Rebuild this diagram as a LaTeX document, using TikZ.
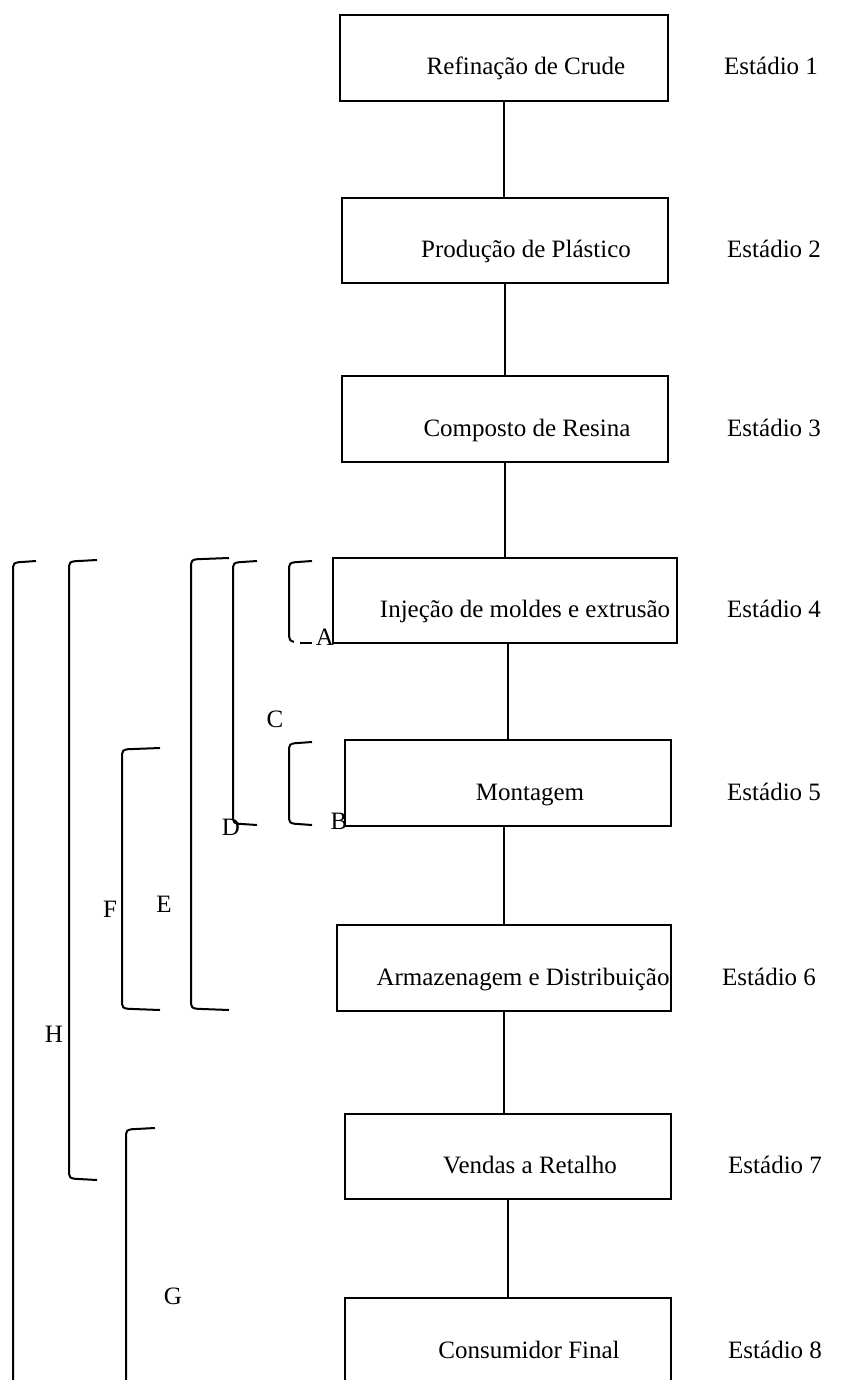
\documentclass[tikz,border=0pt]{standalone}
\usepackage{fontspec}
\setmainfont{Liberation Serif}
\newcommand{\mybrk}[4]{% #1 x of spine, #2 top y, #3 bottom y, #4 arm end x
  \draw[brk] (#4,#2) -- ({#1+6},{#2+1.2}) .. controls ({#1+1.5},{#2+1.8}) and (#1,{#2+3}) .. (#1,{#2+6})
    -- (#1,{#3-6}) .. controls (#1,{#3-3}) and ({#1+1.5},{#3-1.8}) .. ({#1+6},{#3-1.2}) -- (#4,#3);}
\begin{document}
\begin{tikzpicture}[x=1pt,y=-1pt,
  stagebox/.style={draw=black, line width=1.9pt, rectangle, inner sep=0pt, minimum width=326pt, minimum height=86pt},
  boxtext/.style={anchor=base, inner sep=0pt, font=\fontsize{25}{29}\selectfont},
  stagelbl/.style={anchor=base west, inner sep=0pt, font=\fontsize{25}{29}\selectfont},
  letter/.style={anchor=base, inner sep=0pt, font=\fontsize{25}{29}\selectfont},
  link/.style={draw=black, line width=1.9pt},
  brk/.style={draw=black, line width=2pt}]
\useasboundingbox (0,0) rectangle (859,1380);
% boxes
\node[stagebox, minimum width=328pt] (b1) at (504,58) {};
\node[stagebox, minimum height=85pt] (b2) at (505,240.5) {};
\node[stagebox] (b3) at (505,419) {};
\node[stagebox, minimum width=344pt, minimum height=85pt] (b4) at (505,600.5) {};
\node[stagebox] (b5) at (508,783) {};
\node[stagebox, minimum width=334pt] (b6) at (504,968) {};
\node[stagebox, minimum height=85pt] (b7) at (508,1156.5) {};
\node[stagebox] (b8) at (508,1341) {};
% box texts
\node[boxtext] (t1) at (526,75) {Refinação de Crude};
\node[boxtext] (t2) at (526,257.5) {Produção de Plástico};
\node[boxtext] (t3) at (527,436) {Composto de Resina};
\node[boxtext] (t4) at (525,617.5) {Injeção de moldes e extrusão};
\node[boxtext] (t5) at (530,800) {Montagem};
\node[boxtext] (t6) at (523,985) {Armazenagem e Distribuição};
\node[boxtext] (t7) at (530,1173.5) {Vendas a Retalho};
\node[boxtext] (t8) at (529,1358) {Consumidor Final};
% stage labels
\node[stagelbl] (s1) at (724,75) {Estádio 1};
\node[stagelbl] (s2) at (727,257.5) {Estádio 2};
\node[stagelbl] (s3) at (727,436) {Estádio 3};
\node[stagelbl] (s4) at (727,617.5) {Estádio 4};
\node[stagelbl] (s5) at (727,800) {Estádio 5};
\node[stagelbl] (s6) at (722,985) {Estádio 6};
\node[stagelbl] (s7) at (728,1173.5) {Estádio 7};
\node[stagelbl] (s8) at (728,1358) {Estádio 8};
% connectors
\draw[link] (b1.south) -- (b1.south |- b2.north);
\draw[link] (b2.south) -- (b2.south |- b3.north);
\draw[link] (b3.south) -- (b3.south |- b4.north);
\draw[link] (b5.north |- b4.south) -- (b5.north);
\draw[link] (b6.north |- b5.south) -- (b6.north);
\draw[link] (b6.south) -- (b6.south |- b7.north);
\draw[link] (b7.south) -- (b7.south |- b8.north);
% brackets
\mybrk{13}{561}{1400}{36}
\mybrk{69}{560}{1180}{97}
\mybrk{122}{748}{1010}{160}
\mybrk{191}{558}{1010}{229}
\mybrk{233}{561}{825}{257}
\mybrk{289}{742}{825}{312}
\mybrk{126}{1128}{1400}{155}
% bracket A with broken bottom arm
\draw[brk] (312,561) -- (295,562.2) .. controls (290.5,562.8) and (289,564) .. (289,567)
  -- (289,636) .. controls (289,639) and (290,641) .. (294,641.8);
\draw[brk] (300,642.5) -- (312,642.5);
% bracket letters
\node[letter] (lA) at (325,645) {A};
\node[letter] (lB) at (339,829) {B};
\node[letter] (lC) at (275,727) {C};
\node[letter] (lD) at (231,835) {D};
\node[letter] (lE) at (164,912) {E};
\node[letter] (lF) at (110,917) {F};
\node[letter] (lG) at (173,1304) {G};
\node[letter] (lH) at (54,1042) {H};
\end{tikzpicture}
\end{document}
